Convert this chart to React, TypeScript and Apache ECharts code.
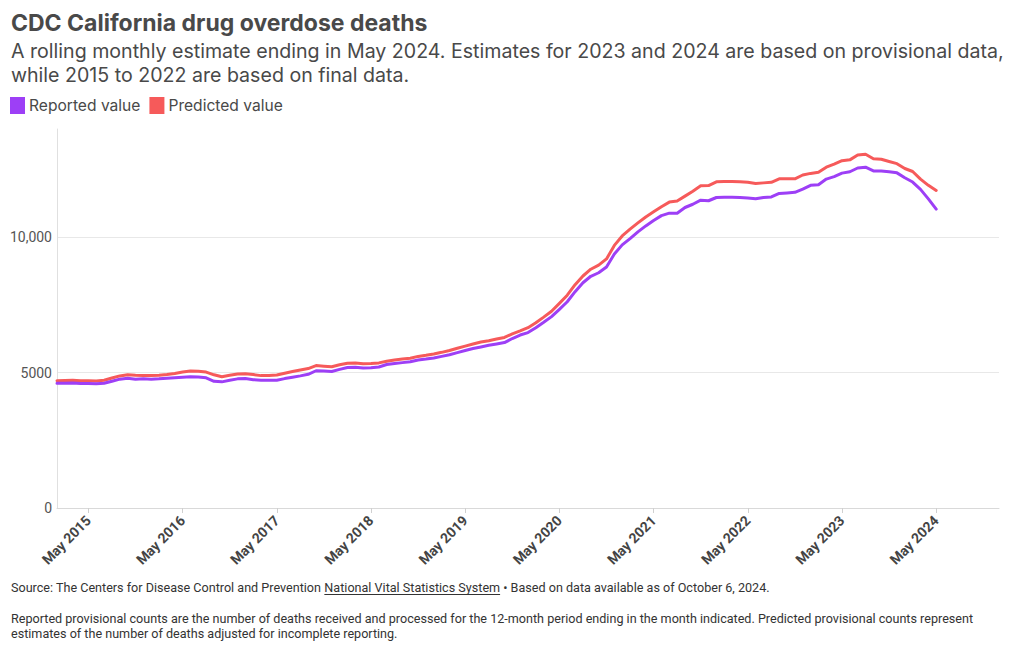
import React, { useEffect, useRef } from "react";
import * as echarts from "echarts";

const MONTHS = ["Jan", "Feb", "Mar", "Apr", "May", "Jun", "Jul", "Aug", "Sep", "Oct", "Nov", "Dec"];
const YEARS = [2015, 2016, 2017, 2018, 2019, 2020, 2021, 2022, 2023, 2024, 2025];
// Jan 2015 .. Jan 2025 (axis extent); data runs Jan 2015 .. May 2024
const CATEGORIES = YEARS.flatMap((y) => MONTHS.map((m) => `${m} ${y}`)).slice(0, 121);

const REPORTED = [
  // 2015
  4610, 4610, 4620, 4600, 4600, 4590, 4610, 4680, 4760, 4790, 4760, 4770,
  // 2016
  4760, 4770, 4790, 4810, 4830, 4850, 4840, 4810, 4680, 4660, 4720, 4770,
  // 2017
  4780, 4740, 4720, 4720, 4720, 4780, 4830, 4880, 4940, 5070, 5060, 5040,
  // 2018
  5120, 5190, 5200, 5170, 5180, 5210, 5300, 5340, 5370, 5400, 5470, 5500,
  // 2019
  5540, 5600, 5660, 5740, 5820, 5890, 5950, 6010, 6060, 6110, 6260, 6390,
  // 2020
  6480, 6660, 6860, 7070, 7340, 7620, 7990, 8320, 8560, 8690, 8900, 9380,
  // 2021
  9720, 9950, 10200, 10420, 10620, 10800, 10890, 10890, 11100, 11220, 11370, 11350,
  // 2022
  11470, 11480, 11480, 11470, 11450, 11420, 11470, 11490, 11620, 11640, 11660, 11780,
  // 2023
  11920, 11940, 12150, 12240, 12370, 12420, 12560, 12590, 12450, 12450, 12420, 12380,
  // 2024
  12200, 12040, 11770, 11420, 11040,
];

const PREDICTED = [
  // 2015
  4700, 4710, 4720, 4700, 4700, 4690, 4720, 4800, 4880, 4920, 4900, 4890,
  // 2016
  4890, 4900, 4930, 4970, 5020, 5060, 5050, 5020, 4920, 4850, 4900, 4950,
  // 2017
  4960, 4930, 4890, 4890, 4910, 4980, 5040, 5100, 5150, 5260, 5240, 5220,
  // 2018
  5290, 5350, 5360, 5330, 5340, 5360, 5420, 5470, 5500, 5530, 5600, 5640,
  // 2019
  5690, 5750, 5820, 5900, 5980, 6060, 6130, 6180, 6240, 6300, 6430, 6540,
  // 2020
  6660, 6840, 7050, 7270, 7560, 7860, 8250, 8570, 8820, 8970, 9200, 9700,
  // 2021
  10050, 10300, 10530, 10750, 10940, 11130, 11300, 11340, 11520, 11700, 11900, 11910,
  // 2022
  12050, 12060, 12060, 12050, 12030, 11990, 12010, 12030, 12160, 12160, 12160, 12300,
  // 2023
  12360, 12400, 12590, 12700, 12830, 12860, 13040, 13070, 12900, 12880, 12800, 12720,
  // 2024
  12540, 12430, 12150, 11920, 11730,
];

const Y_MAX = 14000;
const Y_INTERVAL = 5000;

const TITLE = "CDC California drug overdose deaths";
const SUBTITLE_1 = "A rolling monthly estimate ending in May 2024. Estimates for 2023 and 2024 are based on provisional data,";
const SUBTITLE_2 = "while 2015 to 2022 are based on final data.";
const SOURCE_1 = "Source: The Centers for Disease Control and Prevention ";
const SOURCE_LINK = "National Vital Statistics System";
const SOURCE_3 = " \u2022 Based on data available as of October 6, 2024.";
const NOTE_1 = "Reported provisional counts are the number of deaths received and processed for the 12-month period ending in the month indicated. Predicted provisional counts represent";
const NOTE_2 = "estimates of the number of deaths adjusted for incomplete reporting.";

const PURPLE = "#9d3ff6";
const RED = "#f65a5a";
const TEXT = "#494949";

function measure(text: string, font: string): number {
  const ctx = document.createElement("canvas").getContext("2d");
  if (!ctx) return text.length * 6;
  ctx.font = font;
  return ctx.measureText(text).width;
}

export default function App() {
  const ref = useRef<HTMLDivElement>(null);

  useEffect(() => {
    document.body.style.margin = "0";
    if (!ref.current) return;
    const chart = echarts.init(ref.current, null, { renderer: "svg" });

    const footFont = "12.6px Roboto";
    const w1 = measure(SOURCE_1, footFont);
    const w2 = measure(SOURCE_LINK, footFont);
    const x0 = 11;

    const isMay = (idx: number) => idx % 12 === 4;

    chart.setOption({
      animation: false,
      backgroundColor: "#ffffff",
      textStyle: { fontFamily: "Roboto" },
      grid: { left: 57, right: 21, top: 129, bottom: 142, containLabel: false },
      legend: {
        left: 10,
        top: 97,
        padding: 0,
        icon: "rect",
        itemWidth: 15,
        itemHeight: 17,
        itemGap: 9,
        textStyle: { fontFamily: "Inter", fontSize: 15.6, color: TEXT, padding: [0, 0, 0, -1] },
        data: ["Reported value", "Predicted value"],
      },
      xAxis: {
        type: "category",
        data: CATEGORIES,
        boundaryGap: false,
        axisLine: { lineStyle: { color: "#d9d9d9", width: 1 } },
        axisTick: {
          show: true,
          interval: (idx: number) => isMay(idx),
          length: 5,
          lineStyle: { color: "#d0d0d0" },
        },
        axisLabel: {
          interval: (idx: number) => isMay(idx),
          rotate: 45,
          margin: 10,
          fontFamily: "Roboto",
          fontWeight: "bold",
          fontSize: 14,
          color: "#444444",
        },
        splitLine: { show: false },
      },
      yAxis: {
        type: "value",
        min: 0,
        max: Y_MAX,
        interval: Y_INTERVAL,
        axisLine: { show: true, lineStyle: { color: "#e0e0e0" } },
        axisTick: { show: false },
        axisLabel: {
          showMaxLabel: false,
          margin: 5,
          fontFamily: "Roboto",
          fontSize: 14,
          color: "#555555",
          formatter: (v: number) => (v >= 10000 ? v.toLocaleString("en-US") : String(v)),
        },
        splitLine: {
          show: true,
          showMinLine: false,
          showMaxLine: false,
          lineStyle: { color: "#e8e8e8", width: 1 },
        },
      },
      series: [
        {
          name: "Reported value",
          type: "line",
          data: REPORTED,
          showSymbol: false,
          symbol: "none",
          smooth: false,
          color: PURPLE,
          lineStyle: { width: 3, color: PURPLE, join: "round", cap: "round" },
          z: 3,
        },
        {
          name: "Predicted value",
          type: "line",
          data: PREDICTED,
          showSymbol: false,
          symbol: "none",
          smooth: false,
          color: RED,
          lineStyle: { width: 3, color: RED, join: "round", cap: "round" },
          z: 2,
        },
      ],
      graphic: [
        {
          type: "text",
          x: 11,
          y: 23,
          style: {
            text: TITLE,
            font: "bold 23px Inter",
            fill: TEXT,
            textVerticalAlign: "middle",
          },
        },
        {
          type: "text",
          x: 11,
          y: 51,
          style: {
            text: SUBTITLE_1,
            font: "19.6px Inter",
            fill: TEXT,
            textVerticalAlign: "middle",
          },
        },
        {
          type: "text",
          x: 11,
          y: 75,
          style: {
            text: SUBTITLE_2,
            font: "19.6px Inter",
            fill: TEXT,
            textVerticalAlign: "middle",
          },
        },
        {
          type: "text",
          x: x0,
          y: 587,
          style: { text: SOURCE_1, font: footFont, fill: "#333333", textVerticalAlign: "middle" },
        },
        {
          type: "text",
          x: x0 + w1,
          y: 587,
          style: { text: SOURCE_LINK, font: footFont, fill: "#333333", textVerticalAlign: "middle" },
        },
        {
          type: "line",
          shape: { x1: x0 + w1, y1: 594.5, x2: x0 + w1 + w2, y2: 594.5 },
          style: { stroke: "#333333", lineWidth: 1 },
        },
        {
          type: "text",
          x: x0 + w1 + w2,
          y: 587,
          style: { text: SOURCE_3, font: footFont, fill: "#333333", textVerticalAlign: "middle" },
        },
        {
          type: "text",
          x: x0,
          y: 618,
          style: { text: NOTE_1, font: footFont, fill: "#333333", textVerticalAlign: "middle" },
        },
        {
          type: "text",
          x: x0,
          y: 633,
          style: { text: NOTE_2, font: footFont, fill: "#333333", textVerticalAlign: "middle" },
        },
      ],
    });

    return () => chart.dispose();
  }, []);

  return <div ref={ref} style={{ width: 1020, height: 650 }} />;
}
